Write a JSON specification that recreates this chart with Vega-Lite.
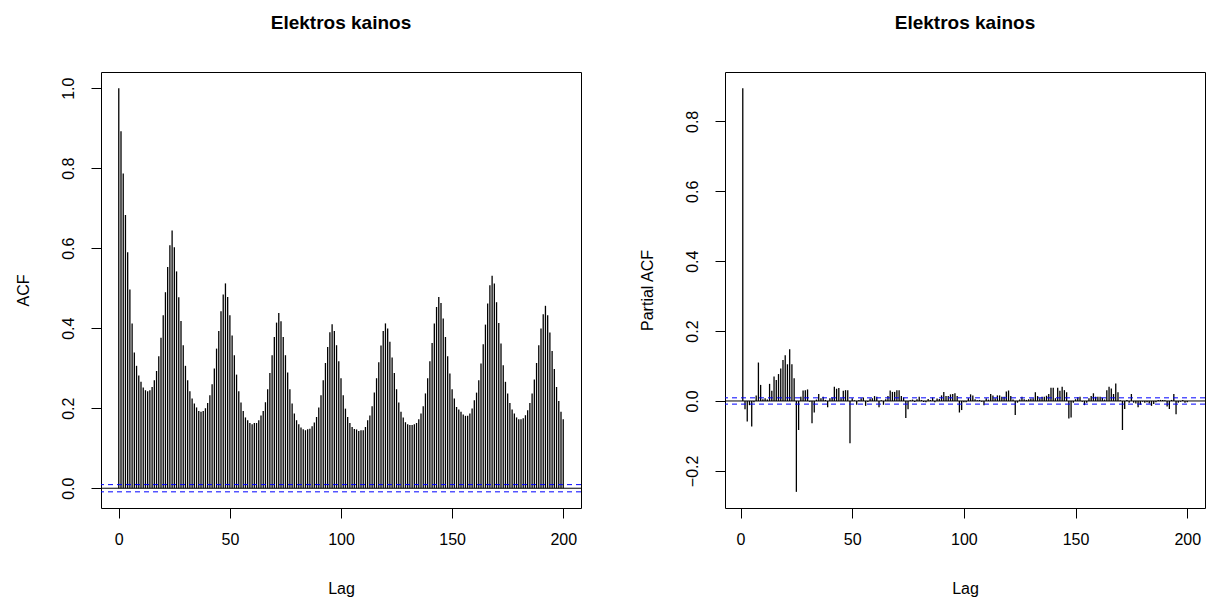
{
"$schema": "https://vega.github.io/schema/vega-lite/v6.json",
"background": "white",
"padding": {"left": 14, "top": 13, "right": 5, "bottom": 5},
"config": {
 "font": "Liberation Sans",
 "view": {"stroke": "black", "strokeWidth": 1},
 "axis": {"grid": false, "domain": false, "tickColor": "black", "tickSize": 10, "labelColor": "black", "labelFontSize": 16, "titleFontSize": 16, "titleFontWeight": "normal", "titleColor": "black", "labelFont": "Liberation Sans", "titleFont": "Liberation Sans"},
 "axisX": {"labelPadding": 13, "titlePadding": 33},
 "axisY": {"labelAngle": 270, "labelAlign": "center", "labelBaseline": "bottom", "labelPadding": 15, "titlePadding": 29},
 "title": {"fontSize": 19, "fontWeight": "bold", "font": "Liberation Sans", "color": "black", "offset": 39}
},
"datasets": {
 "acf": [
{"lag":0,"acf":1.0},{"lag":1,"acf":0.892},{"lag":2,"acf":0.787},{"lag":3,"acf":0.683},{"lag":4,"acf":0.59},{"lag":5,"acf":0.497},{"lag":6,"acf":0.412},{"lag":7,"acf":0.339},{"lag":8,"acf":0.306},{"lag":9,"acf":0.282},
{"lag":10,"acf":0.266},{"lag":11,"acf":0.252},{"lag":12,"acf":0.245},{"lag":13,"acf":0.2425},{"lag":14,"acf":0.245},{"lag":15,"acf":0.253},{"lag":16,"acf":0.27},{"lag":17,"acf":0.293},{"lag":18,"acf":0.33},{"lag":19,"acf":0.376},
{"lag":20,"acf":0.4325},{"lag":21,"acf":0.49},{"lag":22,"acf":0.553},{"lag":23,"acf":0.6075},{"lag":24,"acf":0.644},{"lag":25,"acf":0.6025},{"lag":26,"acf":0.542},{"lag":27,"acf":0.4775},{"lag":28,"acf":0.418},{"lag":29,"acf":0.3575},
{"lag":30,"acf":0.306},{"lag":31,"acf":0.27},{"lag":32,"acf":0.2425},{"lag":33,"acf":0.224},{"lag":34,"acf":0.212},{"lag":35,"acf":0.202},{"lag":36,"acf":0.193},{"lag":37,"acf":0.191},{"lag":38,"acf":0.193},{"lag":39,"acf":0.2},
{"lag":40,"acf":0.213},{"lag":41,"acf":0.2325},{"lag":42,"acf":0.26},{"lag":43,"acf":0.299},{"lag":44,"acf":0.349},{"lag":45,"acf":0.393},{"lag":46,"acf":0.4425},{"lag":47,"acf":0.484},{"lag":48,"acf":0.512},{"lag":49,"acf":0.478},
{"lag":50,"acf":0.4325},{"lag":51,"acf":0.382},{"lag":52,"acf":0.3325},{"lag":53,"acf":0.284},{"lag":54,"acf":0.2425},{"lag":55,"acf":0.214},{"lag":56,"acf":0.193},{"lag":57,"acf":0.177},{"lag":58,"acf":0.17},{"lag":59,"acf":0.163},
{"lag":60,"acf":0.16},{"lag":61,"acf":0.163},{"lag":62,"acf":0.163},{"lag":63,"acf":0.17},{"lag":64,"acf":0.182},{"lag":65,"acf":0.193},{"lag":66,"acf":0.215},{"lag":67,"acf":0.2475},{"lag":68,"acf":0.288},{"lag":69,"acf":0.3325},
{"lag":70,"acf":0.378},{"lag":71,"acf":0.414},{"lag":72,"acf":0.438},{"lag":73,"acf":0.4175},{"lag":74,"acf":0.378},{"lag":75,"acf":0.3325},{"lag":76,"acf":0.289},{"lag":77,"acf":0.2475},{"lag":78,"acf":0.212},{"lag":79,"acf":0.187},
{"lag":80,"acf":0.17},{"lag":81,"acf":0.16},{"lag":82,"acf":0.152},{"lag":83,"acf":0.1475},{"lag":84,"acf":0.145},{"lag":85,"acf":0.1475},{"lag":86,"acf":0.149},{"lag":87,"acf":0.155},{"lag":88,"acf":0.164},{"lag":89,"acf":0.178},
{"lag":90,"acf":0.2017},{"lag":91,"acf":0.2325},{"lag":92,"acf":0.27},{"lag":93,"acf":0.313},{"lag":94,"acf":0.353},{"lag":95,"acf":0.39},{"lag":96,"acf":0.41},{"lag":97,"acf":0.393},{"lag":98,"acf":0.3575},{"lag":99,"acf":0.3175},
{"lag":100,"acf":0.275},{"lag":101,"acf":0.2325},{"lag":102,"acf":0.199},{"lag":103,"acf":0.178},{"lag":104,"acf":0.163},{"lag":105,"acf":0.153},{"lag":106,"acf":0.148},{"lag":107,"acf":0.147},{"lag":108,"acf":0.143},{"lag":109,"acf":0.145},
{"lag":110,"acf":0.145},{"lag":111,"acf":0.153},{"lag":112,"acf":0.17},{"lag":113,"acf":0.182},{"lag":114,"acf":0.205},{"lag":115,"acf":0.239},{"lag":116,"acf":0.275},{"lag":117,"acf":0.315},{"lag":118,"acf":0.357},{"lag":119,"acf":0.393},
{"lag":120,"acf":0.412},{"lag":121,"acf":0.399},{"lag":122,"acf":0.366},{"lag":123,"acf":0.327},{"lag":124,"acf":0.288},{"lag":125,"acf":0.2475},{"lag":126,"acf":0.214},{"lag":127,"acf":0.191},{"lag":128,"acf":0.177},{"lag":129,"acf":0.165},
{"lag":130,"acf":0.16},{"lag":131,"acf":0.158},{"lag":132,"acf":0.158},{"lag":133,"acf":0.16},{"lag":134,"acf":0.163},{"lag":135,"acf":0.1725},{"lag":136,"acf":0.187},{"lag":137,"acf":0.205},{"lag":138,"acf":0.237},{"lag":139,"acf":0.275},
{"lag":140,"acf":0.3175},{"lag":141,"acf":0.363},{"lag":142,"acf":0.412},{"lag":143,"acf":0.453},{"lag":144,"acf":0.478},{"lag":145,"acf":0.463},{"lag":146,"acf":0.424},{"lag":147,"acf":0.378},{"lag":148,"acf":0.33},{"lag":149,"acf":0.287},
{"lag":150,"acf":0.2475},{"lag":151,"acf":0.224},{"lag":152,"acf":0.203},{"lag":153,"acf":0.197},{"lag":154,"acf":0.191},{"lag":155,"acf":0.184},{"lag":156,"acf":0.181},{"lag":157,"acf":0.181},{"lag":158,"acf":0.187},{"lag":159,"acf":0.199},
{"lag":160,"acf":0.22},{"lag":161,"acf":0.239},{"lag":162,"acf":0.27},{"lag":163,"acf":0.312},{"lag":164,"acf":0.36},{"lag":165,"acf":0.409},{"lag":166,"acf":0.462},{"lag":167,"acf":0.5075},{"lag":168,"acf":0.531},{"lag":169,"acf":0.512},
{"lag":170,"acf":0.465},{"lag":171,"acf":0.413},{"lag":172,"acf":0.362},{"lag":173,"acf":0.3075},{"lag":174,"acf":0.266},{"lag":175,"acf":0.237},{"lag":176,"acf":0.213},{"lag":177,"acf":0.197},{"lag":178,"acf":0.187},{"lag":179,"acf":0.177},
{"lag":180,"acf":0.1725},{"lag":181,"acf":0.1725},{"lag":182,"acf":0.175},{"lag":183,"acf":0.1825},{"lag":184,"acf":0.195},{"lag":185,"acf":0.213},{"lag":186,"acf":0.237},{"lag":187,"acf":0.272},{"lag":188,"acf":0.313},{"lag":189,"acf":0.3575},
{"lag":190,"acf":0.399},{"lag":191,"acf":0.435},{"lag":192,"acf":0.456},{"lag":193,"acf":0.4325},{"lag":194,"acf":0.389},{"lag":195,"acf":0.343},{"lag":196,"acf":0.298},{"lag":197,"acf":0.253},{"lag":198,"acf":0.218},{"lag":199,"acf":0.191},
{"lag":200,"acf":0.1725}
 ],
 "pacf": [
{"lag":1,"pacf":0.895},{"lag":2,"pacf":-0.024},{"lag":3,"pacf":-0.059},{"lag":4,"pacf":-0.012},{"lag":5,"pacf":-0.073},{"lag":6,"pacf":-0.004},{"lag":7,"pacf":0.016},{"lag":8,"pacf":0.11},{"lag":9,"pacf":0.046},
{"lag":10,"pacf":0.005},{"lag":11,"pacf":0.008},{"lag":12,"pacf":0.004},{"lag":13,"pacf":0.049},{"lag":14,"pacf":0.029},{"lag":15,"pacf":0.07},{"lag":16,"pacf":0.06},{"lag":17,"pacf":0.077},{"lag":18,"pacf":0.093},{"lag":19,"pacf":0.117},
{"lag":20,"pacf":0.131},{"lag":21,"pacf":0.105},{"lag":22,"pacf":0.148},{"lag":23,"pacf":0.105},{"lag":24,"pacf":0.065},{"lag":25,"pacf":-0.26},{"lag":26,"pacf":-0.083},{"lag":27,"pacf":0.012},{"lag":28,"pacf":0.03},{"lag":29,"pacf":0.031},
{"lag":30,"pacf":0.033},{"lag":31,"pacf":-0.002},{"lag":32,"pacf":-0.064},{"lag":33,"pacf":-0.033},{"lag":34,"pacf":0.004},{"lag":35,"pacf":0.02},{"lag":36,"pacf":0.008},{"lag":37,"pacf":0.012},{"lag":38,"pacf":0.003},{"lag":39,"pacf":-0.018},
{"lag":40,"pacf":0.008},{"lag":41,"pacf":0.01},{"lag":42,"pacf":0.041},{"lag":43,"pacf":0.035},{"lag":44,"pacf":0.037},{"lag":45,"pacf":0.008},{"lag":46,"pacf":0.029},{"lag":47,"pacf":0.031},{"lag":48,"pacf":0.031},{"lag":49,"pacf":-0.121},
{"lag":50,"pacf":0.008},{"lag":51,"pacf":0.002},{"lag":52,"pacf":-0.011},{"lag":53,"pacf":0.003},{"lag":54,"pacf":0.008},{"lag":55,"pacf":0.01},{"lag":56,"pacf":-0.014},{"lag":57,"pacf":-0.003},{"lag":58,"pacf":0.007},{"lag":59,"pacf":0.008},
{"lag":60,"pacf":0.014},{"lag":61,"pacf":0.012},{"lag":62,"pacf":-0.018},{"lag":63,"pacf":0.002},{"lag":64,"pacf":-0.011},{"lag":65,"pacf":0.005},{"lag":66,"pacf":0.014},{"lag":67,"pacf":0.03},{"lag":68,"pacf":0.026},{"lag":69,"pacf":0.026},
{"lag":70,"pacf":0.031},{"lag":71,"pacf":0.031},{"lag":72,"pacf":0.014},{"lag":73,"pacf":0.01},{"lag":74,"pacf":-0.049},{"lag":75,"pacf":-0.024},{"lag":76,"pacf":0.002},{"lag":77,"pacf":0.004},{"lag":78,"pacf":-0.003},{"lag":79,"pacf":0.005},
{"lag":80,"pacf":0.012},{"lag":81,"pacf":0.003},{"lag":82,"pacf":-0.003},{"lag":83,"pacf":-0.004},{"lag":84,"pacf":0.006},{"lag":85,"pacf":0.003},{"lag":86,"pacf":0.01},{"lag":87,"pacf":-0.004},{"lag":88,"pacf":0.007},{"lag":89,"pacf":0.006},
{"lag":90,"pacf":0.016},{"lag":91,"pacf":0.026},{"lag":92,"pacf":0.014},{"lag":93,"pacf":0.014},{"lag":94,"pacf":0.019},{"lag":95,"pacf":0.02},{"lag":96,"pacf":0.022},{"lag":97,"pacf":0.014},{"lag":98,"pacf":-0.033},{"lag":99,"pacf":-0.026},
{"lag":100,"pacf":-0.004},{"lag":101,"pacf":-0.004},{"lag":102,"pacf":0.008},{"lag":103,"pacf":0.019},{"lag":104,"pacf":0.016},{"lag":105,"pacf":0.005},{"lag":106,"pacf":0.002},{"lag":107,"pacf":0.003},{"lag":108,"pacf":-0.002},{"lag":109,"pacf":-0.012},
{"lag":110,"pacf":0.008},{"lag":111,"pacf":0.004},{"lag":112,"pacf":0.02},{"lag":113,"pacf":0.016},{"lag":114,"pacf":0.008},{"lag":115,"pacf":0.016},{"lag":116,"pacf":0.016},{"lag":117,"pacf":0.012},{"lag":118,"pacf":0.012},{"lag":119,"pacf":0.027},
{"lag":120,"pacf":0.03},{"lag":121,"pacf":0.014},{"lag":122,"pacf":0.004},{"lag":123,"pacf":-0.04},{"lag":124,"pacf":-0.005},{"lag":125,"pacf":0.004},{"lag":126,"pacf":0.012},{"lag":127,"pacf":0.005},{"lag":128,"pacf":0.003},{"lag":129,"pacf":0.005},
{"lag":130,"pacf":0.007},{"lag":131,"pacf":0.008},{"lag":132,"pacf":0.025},{"lag":133,"pacf":0.014},{"lag":134,"pacf":0.008},{"lag":135,"pacf":0.012},{"lag":136,"pacf":0.012},{"lag":137,"pacf":0.015},{"lag":138,"pacf":0.02},{"lag":139,"pacf":0.038},
{"lag":140,"pacf":0.038},{"lag":141,"pacf":0.008},{"lag":142,"pacf":0.038},{"lag":143,"pacf":0.029},{"lag":144,"pacf":0.041},{"lag":145,"pacf":0.031},{"lag":146,"pacf":0.025},{"lag":147,"pacf":-0.05},{"lag":148,"pacf":-0.047},{"lag":149,"pacf":-0.005},
{"lag":150,"pacf":0.005},{"lag":151,"pacf":0.011},{"lag":152,"pacf":0.012},{"lag":153,"pacf":-0.002},{"lag":154,"pacf":-0.012},{"lag":155,"pacf":-0.005},{"lag":156,"pacf":0.008},{"lag":157,"pacf":0.014},{"lag":158,"pacf":0.022},{"lag":159,"pacf":0.012},
{"lag":160,"pacf":0.012},{"lag":161,"pacf":0.012},{"lag":162,"pacf":0.009},{"lag":163,"pacf":0.004},{"lag":164,"pacf":0.031},{"lag":165,"pacf":0.041},{"lag":166,"pacf":0.036},{"lag":167,"pacf":0.02},{"lag":168,"pacf":0.05},{"lag":169,"pacf":0.025},
{"lag":170,"pacf":0.002},{"lag":171,"pacf":-0.083},{"lag":172,"pacf":-0.023},{"lag":173,"pacf":0.003},{"lag":174,"pacf":-0.005},{"lag":175,"pacf":0.02},{"lag":176,"pacf":-0.005},{"lag":177,"pacf":-0.007},{"lag":178,"pacf":-0.018},{"lag":179,"pacf":-0.011},
{"lag":180,"pacf":-0.002},{"lag":181,"pacf":-0.005},{"lag":182,"pacf":-0.004},{"lag":183,"pacf":-0.007},{"lag":184,"pacf":-0.014},{"lag":185,"pacf":-0.009},{"lag":186,"pacf":-0.004},{"lag":187,"pacf":0.003},{"lag":188,"pacf":0.003},{"lag":189,"pacf":0.003},
{"lag":190,"pacf":0.002},{"lag":191,"pacf":-0.016},{"lag":192,"pacf":-0.023},{"lag":193,"pacf":0.003},{"lag":194,"pacf":0.02},{"lag":195,"pacf":-0.038},{"lag":196,"pacf":-0.005},{"lag":197,"pacf":-0.002},{"lag":198,"pacf":0.003},{"lag":199,"pacf":-0.005},
{"lag":200,"pacf":-0.004}
 ],
 "clim": [{"clim": 0.009}, {"clim": -0.009}]
},
"spacing": 144,
"bounds": "flush",
"hconcat": [
 {
  "width": 480, "height": 436,
  "title": {"text": "Elektros kainos"},
  "layer": [
   {"data": {"name": "acf"},
    "mark": {"type": "rule", "color": "black", "strokeWidth": 1.3},
    "encoding": {
     "x": {"field": "lag", "type": "quantitative", "scale": {"domain": [-8, 208], "nice": false, "zero": false}, "axis": {"values": [0, 50, 100, 150, 200], "title": "Lag"}},
     "y": {"field": "acf", "type": "quantitative", "scale": {"domain": [-0.0494, 1.0404], "nice": false, "zero": false}, "axis": {"values": [0, 0.2, 0.4, 0.6, 0.8, 1.0], "format": ".1f", "title": "ACF"}},
     "y2": {"datum": 0}
    }},
   {"data": {"values": [{}]},
    "mark": {"type": "rule", "color": "black", "strokeWidth": 1},
    "encoding": {"y": {"datum": 0}}},
   {"data": {"name": "clim"},
    "mark": {"type": "rule", "color": "#0000FF", "strokeWidth": 1, "strokeDash": [5, 4]},
    "encoding": {"y": {"field": "clim", "type": "quantitative"}}}
  ]
 },
 {
  "width": 480, "height": 436,
  "title": {"text": "Elektros kainos"},
  "layer": [
   {"data": {"name": "pacf"},
    "mark": {"type": "rule", "color": "black", "strokeWidth": 1.3},
    "encoding": {
     "x": {"field": "lag", "type": "quantitative", "scale": {"domain": [-6.96, 207.96], "nice": false, "zero": false}, "axis": {"values": [0, 50, 100, 150, 200], "title": "Lag"}},
     "y": {"field": "pacf", "type": "quantitative", "scale": {"domain": [-0.3062, 0.9412], "nice": false, "zero": false}, "axis": {"values": [-0.2, 0, 0.2, 0.4, 0.6, 0.8], "format": ".1f", "title": "Partial ACF"}},
     "y2": {"datum": 0}
    }},
   {"data": {"values": [{}]},
    "mark": {"type": "rule", "color": "black", "strokeWidth": 1},
    "encoding": {"y": {"datum": 0}}},
   {"data": {"name": "clim"},
    "mark": {"type": "rule", "color": "#0000FF", "strokeWidth": 1, "strokeDash": [5, 4]},
    "encoding": {"y": {"field": "clim", "type": "quantitative"}}}
  ]
 }
]
}
